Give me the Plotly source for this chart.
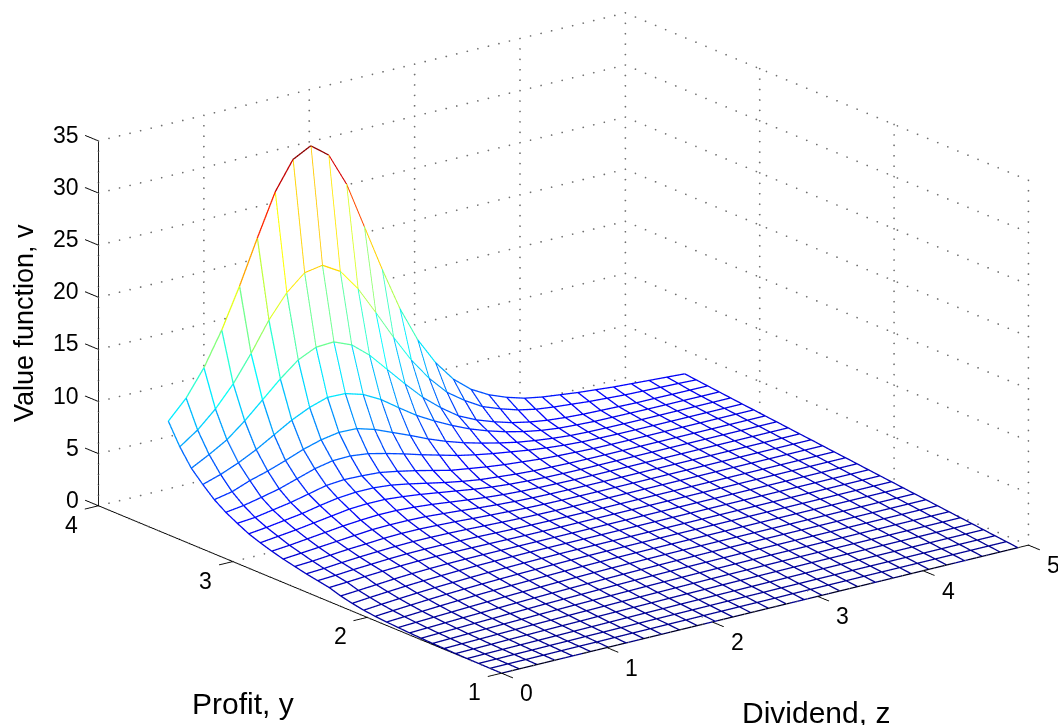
import numpy as np
import plotly.graph_objects as go

# Grid coordinates
dividend_z = np.linspace(0.0, 4.9, 30)
profit_y = np.linspace(1.0, 3.48, 30)

# Value function rows, one list per profit level, front (y=1) to back (y=3.48)
row00 = [0.0]*30
row01 = [.01,.02,.02,.03,.04,.05,.05,.06,.07,.07,.08,.08,.09,.09,.1,.1,.1,.11,.11,.11,.11,.12,.12,.12,.12,.12,.12,.12,.12,.12]
row02 = [.02,.03,.05,.06,.08,.09,.11,.12,.13,.14,.15,.16,.17,.18,.19,.2,.2,.21,.21,.22,.22,.23,.23,.23,.23,.23,.23,.23,.23,.23]
row03 = [.03,.06,.08,.1,.12,.14,.16,.18,.2,.22,.24,.25,.27,.28,.29,.3,.31,.32,.33,.34,.35,.35,.35,.35,.35,.35,.35,.35,.35,.35]
row04 = [.05,.08,.11,.15,.18,.21,.24,.26,.29,.31,.33,.35,.37,.39,.4,.42,.43,.44,.45,.46,.47,.47,.47,.47,.47,.47,.47,.47,.47,.47]
row05 = [.08,.12,.16,.2,.24,.28,.31,.35,.38,.41,.44,.46,.48,.5,.52,.54,.55,.56,.57,.58,.585,.585,.585,.585,.585,.585,.585,.585,.585,.585]
row06 = [.11,.16,.21,.26,.31,.35,.4,.44,.48,.51,.54,.57,.6,.62,.64,.66,.67,.68,.69,.7,.7,.7,.7,.7,.7,.7,.7,.7,.7,.7]
row07 = [.15,.21,.27,.33,.38,.44,.49,.54,.58,.62,.66,.7,.73,.75,.77,.79,.8,.81,.82,.82,.82,.82,.82,.82,.82,.82,.82,.82,.82,.82]
row08 = [.2,.27,.34,.41,.47,.53,.59,.65,.7,.74,.78,.82,.85,.88,.9,.92,.93,.94,.94,.94,.94,.94,.94,.94,.94,.94,.94,.94,.94,.94]
row09 = [.26,.34,.42,.5,.58,.65,.72,.78,.83,.88,.92,.96,.99,1.01,1.03,1.04,1.05,1.05,1.05,1.05,1.05,1.05,1.05,1.05,1.05,1.05,1.05,1.05,1.05,1.05]
row10 = [.33,.43,.53,.63,.72,.8,.87,.93,.98,1.03,1.07,1.1,1.13,1.15,1.16,1.17,1.17,1.17,1.17,1.17,1.17,1.17,1.17,1.17,1.17,1.17,1.17,1.17,1.17,1.17]
row11 = [.42,.55,.67,.78,.88,.96,1.03,1.09,1.14,1.18,1.22,1.25,1.27,1.28,1.29,1.29,1.29,1.29,1.29,1.29,1.29,1.29,1.29,1.29,1.29,1.29,1.29,1.29,1.29,1.29]
row12 = [.55,.7,.83,.95,1.05,1.13,1.2,1.26,1.3,1.34,1.37,1.39,1.4,1.4,1.4,1.4,1.4,1.4,1.4,1.4,1.4,1.4,1.4,1.4,1.4,1.4,1.4,1.4,1.4,1.4]
row13 = [.75,.9,1.03,1.15,1.25,1.33,1.4,1.45,1.48,1.5,1.52,1.52,1.52,1.52,1.52,1.52,1.52,1.52,1.52,1.52,1.52,1.52,1.52,1.52,1.52,1.52,1.52,1.52,1.52,1.52]
row14 = [1.0,1.12,1.25,1.38,1.48,1.55,1.6,1.63,1.64,1.64,1.64,1.64,1.64,1.64,1.64,1.64,1.64,1.64,1.64,1.64,1.64,1.64,1.64,1.64,1.64,1.64,1.64,1.64,1.64,1.64]
row15 = [1.35,1.45,1.57,1.67,1.76,1.82,1.85,1.85,1.84,1.82,1.8,1.78,1.77,1.76,1.76,1.76,1.76,1.76,1.76,1.76,1.76,1.76,1.76,1.76,1.76,1.76,1.76,1.76,1.76,1.76]
row16 = [1.55,1.65,1.78,1.88,1.98,2.05,2.08,2.08,2.06,2.03,1.98,1.94,1.91,1.89,1.88,1.87,1.87,1.87,1.87,1.87,1.87,1.87,1.87,1.87,1.87,1.87,1.87,1.87,1.87,1.87]
row17 = [1.75,1.85,2.0,2.12,2.22,2.3,2.35,2.35,2.32,2.27,2.2,2.14,2.08,2.04,2.01,2.0,1.99,1.99,1.99,1.99,1.99,1.99,1.99,1.99,1.99,1.99,1.99,1.99,1.99,1.99]
row18 = [2.0,2.1,2.25,2.4,2.5,2.62,2.68,2.68,2.62,2.55,2.45,2.36,2.28,2.2,2.16,2.13,2.12,2.11,2.11,2.11,2.11,2.11,2.11,2.11,2.11,2.11,2.11,2.11,2.11,2.11]
row19 = [2.25,2.4,2.55,2.7,2.85,3.0,3.05,3.05,3.0,2.88,2.75,2.6,2.48,2.38,2.31,2.27,2.25,2.23,2.22,2.22,2.22,2.22,2.22,2.22,2.22,2.22,2.22,2.22,2.22,2.22]
row20 = [2.55,2.7,2.9,3.1,3.3,3.45,3.55,3.55,3.45,3.3,3.1,2.9,2.72,2.58,2.48,2.42,2.38,2.35,2.34,2.34,2.34,2.34,2.34,2.34,2.34,2.34,2.34,2.34,2.34,2.34]
row21 = [2.9,3.1,3.3,3.55,3.8,4.05,4.15,4.15,4.0,3.8,3.55,3.3,3.05,2.85,2.7,2.6,2.52,2.48,2.46,2.46,2.46,2.46,2.46,2.46,2.46,2.46,2.46,2.46,2.46,2.46]
row22 = [3.3,3.5,3.75,4.0,4.35,4.65,4.8,4.8,4.65,4.35,4.0,3.65,3.35,3.1,2.95,2.8,2.7,2.65,2.6,2.58,2.57,2.57,2.57,2.57,2.57,2.57,2.57,2.57,2.57,2.57]
row23 = [3.85,4.0,4.3,4.6,5.0,5.4,5.55,5.5,5.4,5.1,4.75,4.35,3.95,3.7,3.45,3.25,3.1,2.95,2.85,2.78,2.72,2.7,2.69,2.69,2.69,2.69,2.69,2.69,2.69,2.69]
row24 = [4.45,4.68,5.05,5.45,6.0,6.55,6.9,6.95,6.75,6.35,5.9,5.4,4.95,4.5,4.15,3.85,3.6,3.35,3.15,3.0,2.9,2.85,2.82,2.81,2.8,2.8,2.8,2.8,2.8,2.8]
row25 = [5.2,5.55,6.2,6.7,7.3,7.95,8.45,8.75,8.7,8.2,7.5,6.8,6.05,5.4,4.85,4.4,4.0,3.65,3.4,3.2,3.05,2.98,2.95,2.93,2.92,2.92,2.92,2.92,2.92,2.92]
row26 = [6.2,6.75,7.45,8.3,9.3,10.3,11.1,11.65,11.6,11.1,10.2,9.0,7.85,6.9,6.05,5.3,4.7,4.2,3.8,3.5,3.3,3.2,3.12,3.1,3.08,3.06,3.05,3.05,3.04,3.04]
row27 = [7.3,8.2,9.2,10.6,12.2,13.8,15.2,16.0,16.1,15.4,14.0,12.2,10.4,8.7,7.3,6.1,5.3,4.7,4.2,3.85,3.6,3.45,3.35,3.3,3.25,3.2,3.2,3.18,3.17,3.16]
row28 = [8.9,10.1,11.7,13.7,16.2,19.0,21.2,22.7,23.0,22.0,19.9,17.2,14.4,11.8,9.65,7.9,6.7,5.7,5.07,4.55,4.2,4.0,3.85,3.7,3.6,3.5,3.45,3.4,3.35,3.28]
row29 = [10.9,12.7,15.2,18.4,22.2,26.4,30.4,33.1,34.0,32.7,29.5,25.0,20.5,16.3,12.9,10.3,8.3,6.9,5.96,5.3,4.8,4.5,4.3,4.1,3.95,3.8,3.7,3.6,3.5,3.4]

value_v = np.array([row00,row01,row02,row03,row04,row05,row06,row07,row08,row09,
                    row10,row11,row12,row13,row14,row15,row16,row17,row18,row19,
                    row20,row21,row22,row23,row24,row25,row26,row27,row28,row29])

z_ticks = [0, 1, 2, 3, 4, 5]
y_ticks = [1, 2, 3, 4]
v_ticks = [0, 5, 10, 15, 20, 25, 30, 35]
vmax = 34.0

JET = [[0.0,"#00008f"],[0.11,"#0000ff"],[0.365,"#00ffff"],[0.49,"#7fff7f"],
       [0.625,"#ffff00"],[0.75,"#ff8000"],[0.875,"#ff0000"],[1.0,"#800000"]]

FONT = "Liberation Sans, Arial, sans-serif"
fig = go.Figure()

# white hidden-line fill, a hair under the mesh lines
fig.add_trace(go.Surface(x=dividend_z, y=profit_y, z=value_v-0.07, showscale=False,
    colorscale=[[0,"white"],[1,"white"]], hoverinfo="skip",
    lighting=dict(ambient=1,diffuse=0,specular=0,fresnel=0,roughness=1),
    contours=dict(x=dict(highlight=False),y=dict(highlight=False),z=dict(highlight=False))))

# mesh edges: every segment carries a single colour
xs,ys,zs,cs = [],[],[],[]
nj,ni = value_v.shape
for j in range(nj):
    for i in range(ni-1):
        c = 0.5*(value_v[j,i]+value_v[j,i+1])
        xs += [dividend_z[i],dividend_z[i+1],None]; ys += [profit_y[j],profit_y[j],None]
        zs += [value_v[j,i],value_v[j,i+1],None]; cs += [c,c,c]
for i in range(ni):
    for j in range(nj-1):
        c = min(value_v[j,i],value_v[j+1,i])
        xs += [dividend_z[i],dividend_z[i],None]; ys += [profit_y[j],profit_y[j+1],None]
        zs += [value_v[j,i],value_v[j+1,i],None]; cs += [c,c,c]
fig.add_trace(go.Scatter3d(x=xs,y=ys,z=zs,mode="lines",hoverinfo="skip",showlegend=False,
    line=dict(color=cs,colorscale=JET,cmin=0,cmax=vmax,width=2.6)))

zmin,zmax = z_ticks[0],z_ticks[-1]; ymin,ymax = y_ticks[0],y_ticks[-1]; vmin,vtop = v_ticks[0],v_ticks[-1]

# dotted grid on the floor and the two back walls, drawn as small dots
dz = np.arange(zmin, zmax+1e-6, 0.1)
dy = np.arange(ymin, ymax+1e-6, 0.075)
dv = np.arange(vmin, vtop+1e-6, 1.0)
gx,gy,gz = [],[],[]
def add(x,y,z):
    n = max(np.size(x),np.size(y),np.size(z))
    gx.extend(np.broadcast_to(x,n).tolist()); gy.extend(np.broadcast_to(y,n).tolist()); gz.extend(np.broadcast_to(z,n).tolist())
for t in z_ticks:
    add(t,dy,vmin); add(t,ymax,dv)
for t in y_ticks:
    add(dz,t,vmin); add(zmax,t,dv)
for t in v_ticks:
    add(dz,ymax,t); add(zmax,dy,t)
fig.add_trace(go.Scatter3d(x=gx,y=gy,z=gz,mode="markers",hoverinfo="skip",showlegend=False,
    marker=dict(color="#707070",size=1.0,symbol="circle",line=dict(width=0))))

# axes and ticks
ax,ay,az = [],[],[]
def aseg(a,b):
    ax.extend([a[0],b[0],None]); ay.extend([a[1],b[1],None]); az.extend([a[2],b[2],None])
aseg((zmin,ymin,vmin),(zmax,ymin,vmin)); aseg((zmin,ymin,vmin),(zmin,ymax,vmin)); aseg((zmin,ymax,vmin),(zmin,ymax,vtop))
for t in z_ticks: aseg((t,ymin,vmin),(t,ymin-0.085,vmin))
for t in y_ticks: aseg((zmin,t,vmin),(zmin-0.13,t,vmin))
for t in v_ticks: aseg((zmin,ymax,t),(zmin,ymax+0.1,t))
fig.add_trace(go.Scatter3d(x=ax,y=ay,z=az,mode="lines",hoverinfo="skip",showlegend=False,
    line=dict(color="black",width=1.8)))

tf = dict(family=FONT,size=23,color="black")
annos = []
for t in z_ticks:
    annos.append(dict(x=t,y=ymin,z=vmin,text=str(t),showarrow=False,font=tf,xshift=25,yshift=-20))
for t in y_ticks:
    annos.append(dict(x=zmin,y=t,z=vmin,text=str(t),showarrow=False,font=tf,xshift=-27,yshift=-19))
for t in v_ticks:
    annos.append(dict(x=zmin,y=ymax,z=t,text=str(t),showarrow=False,font=tf,xanchor="right",xshift=-17,yshift=6))

hidden = dict(visible=False,showgrid=False,zeroline=False,showbackground=False,showticklabels=False,title="",showspikes=False)
k = 1.83
view_dir = np.array([-0.576,-0.753,0.3177])
center = k*np.array([-0.0366,0.0162,-0.028])
eye = center + 3.0*view_dir
title_font = dict(family=FONT,size=30,color="black")
fig.update_layout(
    width=1058,height=725,margin=dict(l=0,r=0,t=0,b=0),paper_bgcolor="white",showlegend=False,
    scene=dict(
        domain=dict(x=[0,1],y=[0,1]),
        xaxis=dict(range=[-0.2,5.1],**hidden),yaxis=dict(range=[0.85,4.2],**hidden),zaxis=dict(range=[-0.5,35.5],**hidden),
        aspectmode="manual",aspectratio=dict(x=k*5.3/5,y=k*3.35/3,z=k*0.58*36/35),
        camera=dict(projection=dict(type="orthographic"),up=dict(x=0,y=0,z=1),
                    center=dict(x=center[0],y=center[1],z=center[2]),
                    eye=dict(x=eye[0],y=eye[1],z=eye[2])),
        annotations=annos,
    ),
    annotations=[
        dict(xref="paper",yref="paper",x=243/1058,y=1-703/725,xanchor="center",yanchor="middle",text="Profit, y",showarrow=False,font=title_font),
        dict(xref="paper",yref="paper",x=816/1058,y=1-712/725,xanchor="center",yanchor="middle",text="Dividend, z",showarrow=False,font=title_font),
        dict(xref="paper",yref="paper",x=24/1058,y=1-323/725,xanchor="center",yanchor="middle",text="Value function, v",textangle=-90,showarrow=False,font=dict(family=FONT,size=27,color="black")),
    ],
)
fig.write_html("out.html", config=dict(displayModeBar=False),
               post_script="document.body.style.margin='0';document.documentElement.style.overflow='hidden';")
